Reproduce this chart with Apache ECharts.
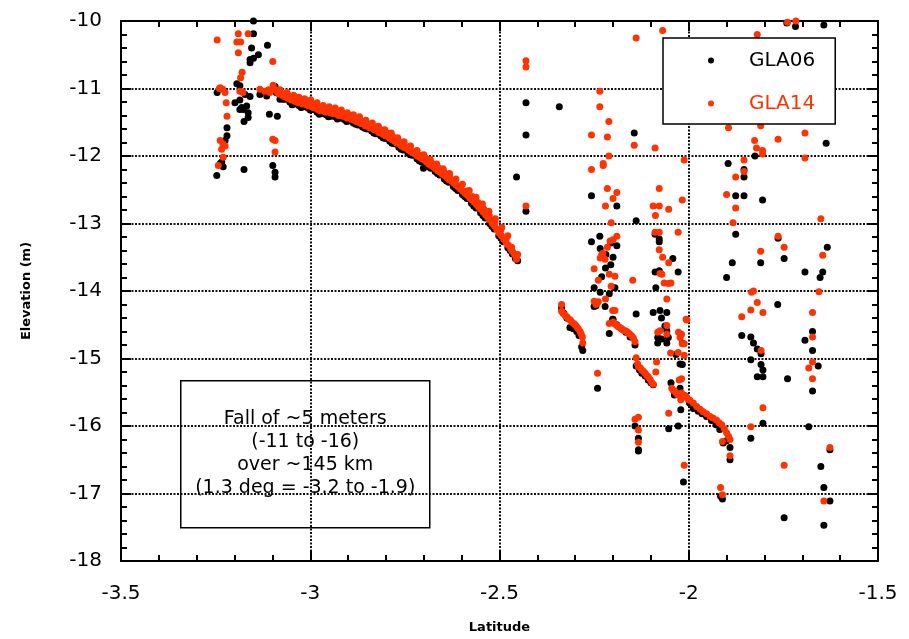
<!DOCTYPE html>
<html>
<head>
    <meta charset="utf-8">
    <title>GLA06 vs GLA14 elevation</title>
    <script src="https://cdn.jsdelivr.net/npm/echarts@6/dist/echarts.min.js"></script>
</head>
<body style="margin:0;">
    <div id="chart" style="width:909px;height:639px;"></div>

    <script type="text/javascript">
        // axis ticks
        var xTicks = [-3.5, -3, -2.5, -2, -1.5];
        var yTicks = [-18, -17, -16, -15, -14, -13, -12, -11, -10];
        var seriesNames = ['GLA06', 'GLA14'];
        var noteLines = ['Fall of ~5 meters', '(-11 to -16)', 'over ~145 km', '(1.3 deg = -3.2 to -1.9)'];

        // GLA06 points [latitude, elevation]
        var gla06Curve = [
            [-3.090,-11.06],[-3.078,-11.12],[-3.066,-11.16],[-3.054,-11.20],[-3.042,-11.23],[-3.030,-11.25],[-3.018,-11.27],
            [-3.006,-11.29],[-2.994,-11.31],[-2.982,-11.35],[-2.970,-11.37],[-2.958,-11.39],[-2.946,-11.41],[-2.934,-11.42],
            [-2.922,-11.44],[-2.910,-11.46],[-2.898,-11.48],[-2.886,-11.51],[-2.874,-11.54],[-2.862,-11.57],[-2.850,-11.60],
            [-2.838,-11.63],[-2.826,-11.67],[-2.814,-11.70],[-2.802,-11.74],[-2.790,-11.78],[-2.778,-11.82],[-2.766,-11.87],
            [-2.754,-11.91],[-2.742,-11.95],[-2.730,-11.99],[-2.718,-12.04],[-2.706,-12.09],[-2.701,-12.18],[-2.694,-12.13],
            [-2.682,-12.18],[-2.670,-12.23],[-2.658,-12.28],[-2.646,-12.34],[-2.634,-12.39],[-2.622,-12.45],[-2.610,-12.51],
            [-2.598,-12.57],[-2.586,-12.63],[-2.574,-12.70],[-2.562,-12.77],[-2.550,-12.84],[-2.538,-12.92],[-2.526,-13.00],
            [-2.514,-13.08],[-2.502,-13.18],[-2.490,-13.27],[-2.478,-13.36],[-2.466,-13.45],[-2.458,-13.52],[-2.452,-13.55],
            [-3.072,-11.16],[-3.048,-11.24],[-3.024,-11.28],[-3.000,-11.32],[-2.976,-11.38],[-2.952,-11.42],[-2.928,-11.45],
            [-2.904,-11.49],[-2.880,-11.53],[-2.856,-11.59],[-2.832,-11.66],[-2.808,-11.73],[-2.784,-11.81],[-2.760,-11.90],
            [-2.736,-11.98],[-2.712,-12.07],[-2.688,-12.16],[-2.664,-12.26],[-2.640,-12.37],[-2.616,-12.48],[-2.592,-12.60],
            [-2.568,-12.74],[-2.544,-12.88],[-2.520,-13.04],[-2.496,-13.22],[-2.472,-13.40]
        ];
        var gla06Scatter = [
            [-3.150,-10.00],[-3.150,-10.19],[-3.113,-10.36],[-3.155,-10.40],[-3.137,-10.50],[-3.159,-10.57],[-3.150,-10.55],
            [-3.159,-10.62],[-3.194,-10.93],[-3.186,-10.96],[-3.246,-11.06],[-3.159,-11.12],[-3.172,-11.09],[-3.186,-11.17],
            [-3.199,-11.21],[-3.181,-11.28],[-3.186,-11.31],[-3.177,-11.31],[-3.168,-11.26],[-3.164,-11.36],[-3.164,-11.43],
            [-3.175,-11.49],[-3.108,-11.38],[-3.087,-11.41],[-3.220,-11.58],[-3.220,-11.70],[-3.225,-11.77],[-3.234,-12.09],
            [-3.230,-12.16],[-3.238,-12.11],[-3.247,-12.29],[-3.175,-12.20],[-3.099,-12.14],[-3.093,-12.24],[-3.093,-12.31],
            [-3.093,-10.97],[-3.133,-11.09],[-3.115,-11.11],[-3.080,-11.16],
            [-2.455,-12.31],[-2.430,-11.21],[-2.430,-11.69],[-2.430,-12.82],[-2.342,-11.27],[-2.144,-11.66],[-2.257,-12.59],
            [-2.190,-12.74],[-2.139,-12.96],[-2.257,-13.27],[-2.235,-13.19],[-2.206,-13.29],[-2.190,-13.33],[-2.234,-13.37],
            [-2.219,-13.46],[-2.200,-13.50],[-2.206,-13.61],[-2.220,-13.66],[-2.230,-13.79],[-2.089,-13.16],[-2.078,-13.23],
            [-2.078,-13.27],[-2.042,-13.52],[-2.089,-13.72],[-2.078,-13.70],[-2.028,-13.72],[-2.250,-13.95],[-2.234,-14.02],
            [-2.210,-14.04],[-2.195,-13.95],[-2.221,-14.23],[-2.201,-14.42],[-2.210,-14.63],[-2.241,-15.44],[-2.250,-14.23],
            [-2.245,-14.22],[-2.087,-13.95],[-2.139,-14.34],[-2.094,-14.32],[-2.076,-14.29],[-2.058,-14.32],[-2.072,-14.40],
            [-2.063,-14.52],[-2.058,-14.59],[-2.082,-14.69],[-2.072,-14.71],[-2.054,-14.69],[-2.058,-14.77],[-2.082,-14.77],
            [-2.034,-14.94],[-2.017,-14.77],[-2.017,-15.09],
            [-2.336,-14.25],[-2.330,-14.33],[-2.322,-14.40],[-2.314,-14.54],[-2.305,-14.56],[-2.296,-14.60],[-2.290,-14.66],
            [-2.283,-14.83],[-2.280,-14.88],
            [-2.200,-14.42],[-2.190,-14.50],[-2.178,-14.56],[-2.166,-14.61],[-2.155,-14.68],[-2.142,-14.80],
            [-2.139,-15.11],[-2.130,-15.17],[-2.124,-15.22],[-2.115,-15.26],[-2.107,-15.32],[-2.100,-15.36],[-2.094,-15.39],
            [-2.047,-15.36],[-2.038,-15.54],[-2.023,-15.44],[-2.021,-15.76],[-2.028,-16.00],[-2.053,-16.04],[-2.014,-16.83],
            [-2.142,-16.00],[-2.133,-16.18],[-2.133,-16.35],[-2.133,-16.37],[-2.023,-15.08],
            [-2.010,-15.55],[-1.998,-15.66],[-1.988,-15.74],[-1.975,-15.78],[-1.965,-15.82],[-1.953,-15.86],[-1.940,-15.92],
            [-1.928,-15.98],[-1.918,-16.05],[-1.909,-16.25],[-1.891,-16.32],[-1.891,-16.50],[-1.900,-16.22],
            [-1.911,-17.08],[-1.916,-17.04],
            [-1.718,-10.08],[-1.643,-10.06],[-1.741,-10.03],[-1.637,-11.81],[-1.825,-12.00],[-1.896,-12.11],[-1.854,-12.20],
            [-1.854,-12.31],[-1.876,-12.59],[-1.854,-12.59],[-1.805,-12.65],[-1.876,-13.16],[-1.764,-13.22],[-1.634,-13.35],
            [-1.748,-13.52],[-1.885,-13.58],[-1.810,-13.58],[-1.693,-13.72],[-1.646,-13.72],[-1.653,-13.80],[-1.900,-13.80],
            [-1.765,-14.20],[-1.860,-14.66],[-1.836,-14.68],[-1.829,-14.77],[-1.819,-14.86],[-1.809,-14.93],[-1.836,-15.02],
            [-1.809,-15.09],[-1.804,-15.17],[-1.819,-15.27],[-1.804,-15.27],[-1.693,-14.73],[-1.673,-14.60],[-1.673,-14.88],
            [-1.658,-15.11],[-1.673,-15.48],[-1.739,-15.30],[-1.804,-15.96],[-1.836,-16.18],[-1.683,-16.01],[-1.748,-17.36],
            [-1.651,-16.60],[-1.643,-16.91],[-1.627,-17.11],[-1.643,-17.47],[-1.627,-16.35]
        ];

        // GLA14 points [latitude, elevation]
        var gla14Curve = [
            [-3.098,-11.00],[-3.092,-11.02],[-3.087,-11.05],[-3.083,-11.08],[-3.079,-11.07],[-3.074,-11.10],[-3.069,-11.12],
            [-3.064,-11.11],[-3.060,-11.14],[-3.055,-11.15],[-3.050,-11.17],[-3.046,-11.16],[-3.041,-11.19],[-3.036,-11.20],
            [-3.031,-11.21],[-3.026,-11.20],[-3.021,-11.23],[-3.016,-11.22],[-3.010,-11.24],[-3.005,-11.26],[-3.000,-11.25],
            [-2.995,-11.27],[-2.990,-11.29],[-2.985,-11.28],[-2.980,-11.31],[-2.974,-11.33],[-2.969,-11.32],[-2.963,-11.34],
            [-2.958,-11.35],[-2.952,-11.34],[-2.947,-11.36],[-2.941,-11.37],[-2.936,-11.36],[-2.930,-11.38],[-2.925,-11.40],
            [-2.919,-11.39],[-2.913,-11.41],[-2.907,-11.42],[-2.902,-11.44],[-2.896,-11.43],[-2.890,-11.46],[-2.884,-11.47],
            [-2.878,-11.49],[-2.872,-11.50],[-2.866,-11.52],[-2.861,-11.51],[-2.855,-11.55],[-2.849,-11.56],[-2.843,-11.58],
            [-2.837,-11.59],[-2.831,-11.61],[-2.825,-11.62],[-2.819,-11.65],[-2.813,-11.66],[-2.807,-11.68],[-2.801,-11.70],
            [-2.795,-11.71],[-2.789,-11.74],[-2.783,-11.76],[-2.777,-11.78],[-2.771,-11.81],[-2.765,-11.82],[-2.759,-11.85],
            [-2.753,-11.87],[-2.747,-11.88],[-2.741,-11.91],[-2.735,-11.93],[-2.729,-11.95],[-2.723,-11.97],[-2.717,-12.00],
            [-2.711,-12.02],[-2.705,-12.04],[-2.699,-12.06],[-2.693,-12.09],[-2.687,-12.12],[-2.681,-12.14],[-2.675,-12.16],
            [-2.669,-12.19],[-2.663,-12.22],[-2.657,-12.24],[-2.651,-12.27],[-2.645,-12.29],[-2.639,-12.32],[-2.633,-12.35],
            [-2.627,-12.37],[-2.621,-12.40],[-2.615,-12.43],[-2.609,-12.46],[-2.603,-12.49],[-2.597,-12.52],[-2.591,-12.55],
            [-2.585,-12.58],[-2.579,-12.62],[-2.573,-12.65],[-2.567,-12.68],[-2.561,-12.72],[-2.555,-12.76],[-2.549,-12.79],
            [-2.543,-12.83],[-2.537,-12.87],[-2.531,-12.91],[-2.525,-12.95],[-2.519,-13.00],[-2.513,-13.04],[-2.507,-13.09],
            [-2.501,-13.14],[-2.495,-13.18],[-2.489,-13.23],[-2.483,-13.28],[-2.477,-13.32],[-2.471,-13.37],[-2.466,-13.41],
            [-2.461,-13.45],[-2.457,-13.49],[-2.455,-13.53],[-2.452,-13.46],
            [-3.070,-11.08],[-3.058,-11.10],[-3.040,-11.15],[-3.026,-11.17],[-3.012,-11.20],[-2.998,-11.21],[-2.985,-11.24],
            [-2.970,-11.28],[-2.955,-11.30],[-2.941,-11.32],[-2.928,-11.34],[-2.914,-11.36],[-2.900,-11.39],[-2.885,-11.42],
            [-2.870,-11.45],[-2.856,-11.49],[-2.842,-11.53],[-2.827,-11.57],[-2.812,-11.61],[-2.797,-11.66],[-2.782,-11.71],
            [-2.767,-11.77],[-2.752,-11.82],[-2.737,-11.88],[-2.722,-11.93],[-2.707,-11.99],[-2.692,-12.04],[-2.677,-12.11],
            [-2.662,-12.17],[-2.647,-12.23],[-2.632,-12.30],[-2.617,-12.37],[-2.602,-12.44],[-2.587,-12.52],[-2.572,-12.60],
            [-2.557,-12.69],[-2.542,-12.78],[-2.527,-12.88],[-2.512,-12.98],[-2.497,-13.10],[-2.482,-13.22],[-2.468,-13.35],
            [-3.080,-11.02],[-3.062,-11.06],[-3.044,-11.10],[-3.030,-11.13],[-3.015,-11.15],[-2.999,-11.17],[-2.982,-11.21],
            [-2.966,-11.25],[-2.950,-11.27],[-2.934,-11.29],[-2.918,-11.32],[-2.902,-11.36],[-2.886,-11.39],[-2.870,-11.42],
            [-2.853,-11.47],[-2.836,-11.51],[-2.820,-11.56],[-2.803,-11.61],[-2.786,-11.66],[-2.769,-11.73],[-2.752,-11.79],
            [-2.735,-11.85],[-2.718,-11.92],[-2.700,-11.98],[-2.683,-12.05],[-2.666,-12.12],[-2.649,-12.19],[-2.632,-12.26],
            [-2.615,-12.34],[-2.598,-12.42],[-2.580,-12.51],[-2.562,-12.61],[-2.545,-12.71],[-2.528,-12.82],[-2.511,-12.93],
            [-2.494,-13.06],[-2.478,-13.18]
        ];
        var gla14Scatter = [
            [-3.164,-9.98],[-3.246,-10.28],[-3.190,-10.19],[-3.164,-10.19],[-3.194,-10.31],[-3.184,-10.31],[-3.190,-10.47],
            [-3.099,-10.60],[-3.180,-10.76],[-3.184,-10.84],[-3.238,-10.99],[-3.231,-11.01],[-3.240,-11.00],[-3.225,-11.06],
            [-3.222,-11.21],[-3.186,-11.04],[-3.178,-11.06],[-3.220,-11.41],[-3.238,-11.77],[-3.231,-11.82],[-3.225,-11.85],
            [-3.234,-11.90],[-3.230,-12.02],[-3.243,-12.14],[-3.099,-11.75],[-3.093,-11.77],[-3.093,-11.94],
            [-3.133,-11.01],[-3.120,-11.04],[-3.107,-11.06],[-3.098,-10.95],[-3.110,-11.02],
            [-2.430,-10.59],[-2.430,-10.68],[-2.139,-10.25],[-2.069,-10.14],[-2.235,-11.04],[-2.235,-11.27],[-2.211,-11.49],
            [-2.257,-11.69],[-2.215,-11.72],[-2.144,-11.84],[-2.089,-11.88],[-2.211,-12.00],[-2.226,-12.11],[-2.226,-12.14],
            [-2.257,-12.20],[-2.012,-12.06],[-2.215,-12.48],[-2.190,-12.54],[-2.200,-12.63],[-2.220,-12.74],[-2.078,-12.48],
            [-2.017,-12.65],[-2.430,-12.74],[-2.094,-12.74],[-2.078,-12.74],[-2.053,-12.79],[-2.088,-12.88],[-2.205,-12.99],
            [-2.089,-13.13],[-2.078,-13.13],[-2.028,-13.13],[-2.190,-13.19],[-2.208,-13.26],[-2.200,-13.24],[-2.215,-13.35],
            [-2.230,-13.46],[-2.234,-13.51],[-2.227,-13.44],[-2.221,-13.53],[-2.250,-13.67],[-2.210,-13.75],[-2.195,-13.78],
            [-2.078,-13.39],[-2.069,-13.50],[-2.053,-13.58],[-2.071,-13.75],[-2.239,-13.84],[-2.148,-13.84],[-2.076,-13.74],
            [-2.065,-13.88],[-2.054,-13.89],[-2.047,-13.88],[-2.250,-14.15],[-2.239,-14.16],[-2.245,-14.20],[-2.220,-14.12],
            [-2.205,-13.93],[-2.195,-14.29],[-2.201,-14.29],[-2.058,-14.12],
            [-2.336,-14.20],[-2.336,-14.30],[-2.332,-14.33],[-2.327,-14.36],[-2.322,-14.38],[-2.318,-14.41],[-2.313,-14.43],
            [-2.309,-14.46],[-2.304,-14.48],[-2.300,-14.50],[-2.296,-14.53],[-2.292,-14.56],[-2.287,-14.60],[-2.284,-14.64],
            [-2.281,-14.68],[-2.280,-14.77],
            [-2.210,-14.48],[-2.200,-14.46],[-2.195,-14.49],[-2.190,-14.51],[-2.186,-14.53],[-2.182,-14.54],[-2.177,-14.56],
            [-2.173,-14.58],[-2.168,-14.59],[-2.164,-14.60],[-2.160,-14.62],[-2.155,-14.64],[-2.150,-14.67],[-2.146,-14.70],
            [-2.142,-14.75],
            [-2.082,-14.61],[-2.058,-14.51],[-2.076,-14.59],[-2.058,-14.64],[-2.027,-14.61],[-2.023,-14.69],[-2.017,-14.78],
            [-2.028,-14.91],[-2.048,-14.92],[-2.007,-14.42],[-2.012,-14.95],[-2.005,-14.43],[-2.019,-14.64],[-2.012,-14.78],
            [-2.139,-14.99],[-2.135,-15.08],[-2.133,-15.12],[-2.128,-15.14],[-2.124,-15.17],[-2.120,-15.19],[-2.115,-15.22],
            [-2.111,-15.25],[-2.107,-15.27],[-2.102,-15.31],[-2.098,-15.35],[-2.094,-15.38],[-2.085,-15.05],[-2.087,-15.20],
            [-2.241,-15.22],[-2.019,-15.30],
            [-2.045,-15.44],[-2.036,-15.49],[-2.028,-15.54],[-2.014,-15.57],[-2.001,-15.61],[-2.025,-15.32],[-2.021,-15.61],
            [-2.041,-15.47],[-2.032,-15.52],[-2.053,-15.81],[-2.142,-15.90],[-2.133,-15.87],[-2.133,-16.06],[-2.133,-16.24],
            [-2.012,-16.58],
            [-2.019,-15.51],[-2.008,-15.56],[-1.997,-15.62],[-1.988,-15.66],[-1.979,-15.71],[-1.970,-15.75],[-1.962,-15.79],
            [-1.953,-15.82],[-1.944,-15.86],[-1.936,-15.88],[-1.927,-15.91],[-1.920,-15.95],[-1.913,-15.98],[-1.906,-16.04],
            [-1.900,-16.10],[-1.895,-16.15],[-1.891,-16.20],[-1.911,-16.23],[-1.891,-16.44],
            [-1.916,-16.91],[-1.911,-17.02],
            [-1.739,-10.02],[-1.717,-10.00],[-1.819,-10.20],[-1.895,-11.58],[-1.810,-11.55],[-1.826,-11.77],[-1.821,-11.88],
            [-1.805,-11.92],[-1.805,-11.97],[-1.764,-11.75],[-1.693,-11.66],[-1.693,-12.03],[-1.854,-12.06],[-1.854,-12.23],
            [-1.876,-12.31],[-1.900,-12.57],[-1.876,-12.77],[-1.883,-12.99],[-1.651,-12.93],[-1.764,-13.19],[-1.748,-13.35],
            [-1.810,-13.41],[-1.646,-13.47],[-1.834,-14.02],[-1.829,-14.00],[-1.656,-14.01],[-1.860,-14.38],[-1.836,-14.28],
            [-1.819,-14.17],[-1.804,-14.32],[-1.673,-14.32],[-1.673,-14.68],[-1.673,-15.05],[-1.683,-15.14],[-1.673,-15.30],
            [-1.809,-14.88],[-1.804,-15.73],[-1.836,-16.01],[-1.748,-16.58],[-1.627,-16.32],[-1.643,-17.11]
        ];

        var RED = '#ff3300';
        var FONT = 'DejaVu Sans';

        // ticks point into the plot on all four sides
        function axisStyle(showGrid) {
            return {
                axisLine: { show: true, onZero: false, lineStyle: { color: '#000', width: 2 } },
                axisTick: { show: true, inside: true, length: 10, lineStyle: { color: '#000', width: 2 } },
                minorTick: { show: true, splitNumber: 5, length: 6, lineStyle: { color: '#000', width: 2 } },
                splitLine: { show: showGrid, lineStyle: { color: '#111', width: 2, type: [2, 1.5] } }
            };
        }

        var xBottom = Object.assign({
            type: 'value', position: 'bottom',
            min: xTicks[0], max: xTicks[xTicks.length - 1], interval: 0.5,
            name: 'Latitude', nameLocation: 'middle', nameGap: 60,
            nameTextStyle: { fontFamily: FONT, fontSize: 13, fontWeight: 'bold', color: '#000' },
            axisLabel: { fontFamily: FONT, fontSize: 20, color: '#000', margin: 23 }
        }, axisStyle(true));
        var xTop = Object.assign({
            type: 'value', position: 'top',
            min: xTicks[0], max: xTicks[xTicks.length - 1], interval: 0.5,
            axisLabel: { show: false }
        }, axisStyle(false));
        var yLeft = Object.assign({
            type: 'value', position: 'left',
            min: yTicks[0], max: yTicks[yTicks.length - 1], interval: 1,
            name: 'Elevation (m)', nameLocation: 'middle', nameGap: 88, nameRotate: 90,
            nameTextStyle: { fontFamily: FONT, fontSize: 13, fontWeight: 'bold', color: '#000' },
            axisLabel: { fontFamily: FONT, fontSize: 20, color: '#000', margin: 19 }
        }, axisStyle(true));
        var yRight = Object.assign({
            type: 'value', position: 'right',
            min: yTicks[0], max: yTicks[yTicks.length - 1], interval: 1,
            axisLabel: { show: false }
        }, axisStyle(false));

        var option = {
            animation: false,
            backgroundColor: '#fff',
            grid: { left: 121, right: 31, top: 21, bottom: 73 },
            legend: {
                orient: 'vertical',
                left: 663, top: 38,
                padding: [12, 20, 10, 45],
                borderColor: '#000', borderWidth: 1.5, borderRadius: 0,
                backgroundColor: '#fff',
                itemWidth: 6, itemHeight: 6, itemGap: 22,
                icon: 'circle',
                textStyle: { fontFamily: FONT, fontSize: 20, lineHeight: 21, padding: [0, 0, 0, 30] },
                data: [
                    { name: seriesNames[0], textStyle: { color: '#000' } },
                    { name: seriesNames[1], textStyle: { color: RED } }
                ]
            },
            xAxis: [xBottom, xTop],
            yAxis: [yLeft, yRight],
            series: [{
                name: seriesNames[0], type: 'scatter', symbol: 'circle', symbolSize: 7,
                itemStyle: { color: '#000', opacity: 1 },
                data: gla06Scatter.concat(gla06Curve)
            }, {
                name: seriesNames[1], type: 'scatter', symbol: 'circle', symbolSize: 7,
                itemStyle: { color: RED, opacity: 1 },
                data: gla14Scatter.concat(gla14Curve)
            }],
            graphic: [{
                type: 'group', left: 180, top: 380, z: 100,
                children: [{
                    type: 'rect',
                    shape: { x: 0, y: 0, width: 249, height: 147 },
                    style: { fill: '#fff', stroke: '#000', lineWidth: 1.5 }
                }, {
                    type: 'text',
                    x: 124.5, y: 73,
                    style: {
                        text: noteLines.join('\n'),
                        font: '19px "' + FONT + '"',
                        lineHeight: 23,
                        fill: '#000',
                        align: 'center',
                        verticalAlign: 'middle'
                    }
                }]
            }]
        };

        var chart = echarts.init(document.getElementById('chart'));
        chart.setOption(option);
    </script>
</body>
</html>
